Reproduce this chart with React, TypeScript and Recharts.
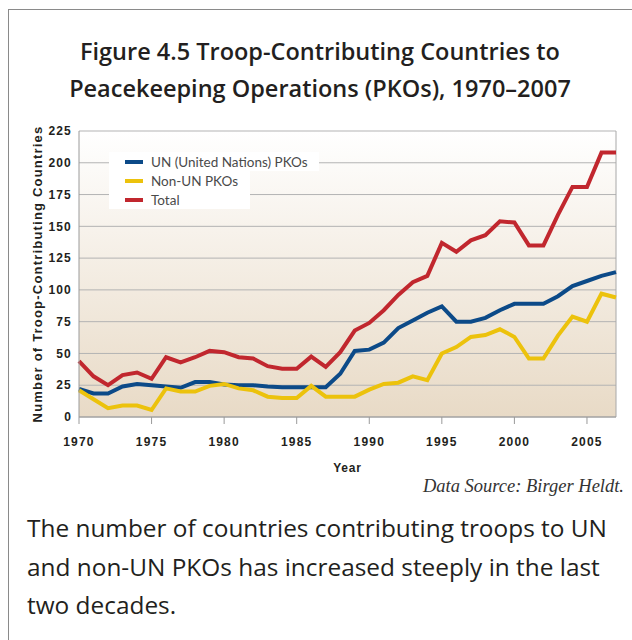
import React from "react";
import {
  CartesianGrid,
  Legend,
  Line,
  LineChart,
  ReferenceLine,
  XAxis,
  YAxis,
} from "recharts";

const years = [
  1970, 1971, 1972, 1973, 1974, 1975, 1976, 1977, 1978, 1979,
  1980, 1981, 1982, 1983, 1984, 1985, 1986, 1987, 1988, 1989,
  1990, 1991, 1992, 1993, 1994, 1995, 1996, 1997, 1998, 1999,
  2000, 2001, 2002, 2003, 2004, 2005, 2006, 2007,
];

const unPko = [
  22, 18.5, 18.5, 24, 26, 25, 24, 23, 27.5, 27.5,
  25.5, 25, 25, 24, 23.5, 23.5, 23.5, 23.5, 34, 52,
  53, 58.5, 70, 76, 82, 87, 75, 75, 78, 84,
  89, 89, 89, 95, 103, 107, 111, 114,
];

const nonUnPko = [
  21, 14, 7, 9, 9, 5.5, 22.5, 20, 20, 24.5,
  26, 22.5, 21, 16, 15, 15, 24.5, 16, 16, 16,
  21.5, 26, 27, 32, 29, 50, 55, 63, 64.5, 69,
  63, 46, 46, 64, 79, 75, 97, 94,
];

const totalPko = [
  44, 32, 25, 33, 35, 30, 47, 43, 47, 52,
  51, 47, 46, 40, 38, 38, 47.5, 39.5, 51, 68,
  74, 84, 96, 106, 111, 137, 130, 139, 143, 154,
  153, 135, 135, 159, 181, 181, 208, 208,
];

const yearTicks = [1970, 1975, 1980, 1985, 1990, 1995, 2000, 2005];
const countTicks = [0, 25, 50, 75, 100, 125, 150, 175, 200, 225];

// legend rows in the order the series are listed
const seriesOrder = ["un", "nonUn", "total"];

const rows = years.map((year, i) => ({
  year,
  un: unPko[i],
  nonUn: nonUnPko[i],
  total: totalPko[i],
}));

const axisFont = {
  fontFamily: "'Liberation Sans', Arial, sans-serif",
  fontWeight: 700,
  fontSize: 12,
  fill: "#231f20",
  letterSpacing: 1.2,
};

function KeyList({ payload }: { payload?: any[] }) {
  const items = [...(payload ?? [])].sort(
    (a, b) => seriesOrder.indexOf(a.dataKey) - seriesOrder.indexOf(b.dataKey)
  );
  return (
    <div style={{ fontFamily: "Lato, sans-serif", fontSize: 13.5, color: "#4a4a4a" }}>
      {items.map((item, i) => (
        <div
          key={item.value}
          style={{
            display: "flex",
            alignItems: "center",
            height: 19,
            background: "#fff",
            boxSizing: "border-box",
            whiteSpace: "nowrap",
            paddingLeft: 16,
            paddingRight: i === 0 ? 11 : 0,
            width: i === 0 ? "max-content" : 141,
          }}
        >
          <span
            style={{ width: 18, height: 4, background: item.color, marginRight: 8, flex: "none" }}
          />
          {item.value}
        </div>
      ))}
    </div>
  );
}

export default function App() {
  return (
    <div
      style={{
        position: "absolute",
        left: 0,
        top: 0,
        width: 632,
        height: 640,
        overflow: "hidden",
        background: "#fff",
      }}
    >
      <div
        style={{
          position: "absolute",
          left: 8,
          top: 9,
          width: 700,
          height: 700,
          borderLeft: "1.5px solid #8a8a8a",
          borderTop: "1.5px solid #8a8a8a",
        }}
      />
      <div
        style={{
          position: "absolute",
          left: 8,
          top: 33,
          width: 624,
          textAlign: "center",
          fontFamily: "'Open Sans', sans-serif",
          fontWeight: 600,
          fontSize: 23.5,
          lineHeight: "37px",
          color: "#231f20",
        }}
      >
        Figure 4.5 Troop-Contributing Countries to
        <br />
        Peacekeeping Operations (PKOs), 1970–2007
      </div>

      <div style={{ position: "absolute", left: 0, top: 0 }}>
        <LineChart
          width={632}
          height={500}
          data={rows}
          margin={{ top: 131, right: 16, left: 0, bottom: 53 }}
        >
          <defs>
            <linearGradient id="plotShade" x1="0" y1="0" x2="0" y2="1">
              <stop offset="0%" stopColor="#ffffff" />
              <stop offset="100%" stopColor="#e8dac6" />
            </linearGradient>
          </defs>
          <CartesianGrid
            vertical={false}
            stroke="#b3b3b3"
            fill="url(#plotShade)"
            fillOpacity={1}
          />
          <XAxis
            dataKey="year"
            type="number"
            domain={[1970, 2007]}
            ticks={yearTicks}
            height={30}
            tick={axisFont}
            tickSize={7}
            tickMargin={13}
            stroke="#9a9a9a"
            label={{
              value: "Year",
              position: "bottom",
              offset: 16,
              style: { ...axisFont, letterSpacing: 0.8 },
            }}
          />
          <YAxis
            domain={[0, 225]}
            ticks={countTicks}
            width={79}
            tick={axisFont}
            tickLine={false}
            tickSize={0}
            tickMargin={7}
            stroke="#9a9a9a"
            label={{
              value: "Number of Troop-Contributing Countries",
              angle: -90,
              position: "center",
              dx: -2,
              style: { ...axisFont, fontSize: 13, letterSpacing: 1.2 },
            }}
          />
          <ReferenceLine x={2007} stroke="#a8a8a8" />
          <Legend
            layout="vertical"
            align="center"
            verticalAlign="middle"
            wrapperStyle={{ left: 109, top: 152 }}
            content={<KeyList />}
          />
          <Line
            type="linear"
            dataKey="un"
            name="UN (United Nations) PKOs"
            stroke="#0c4a88"
            strokeWidth={4}
            dot={false}
            activeDot={false}
            isAnimationActive={false}
          />
          <Line
            type="linear"
            dataKey="nonUn"
            name="Non-UN PKOs"
            stroke="#ecc20c"
            strokeWidth={4}
            dot={false}
            activeDot={false}
            isAnimationActive={false}
          />
          <Line
            type="linear"
            dataKey="total"
            name="Total"
            stroke="#c1272e"
            strokeWidth={4}
            dot={false}
            activeDot={false}
            isAnimationActive={false}
          />
        </LineChart>
      </div>

      <div
        style={{
          position: "absolute",
          right: 8,
          top: 476,
          fontFamily: "'Liberation Serif', serif",
          fontStyle: "italic",
          fontSize: 18.5,
          color: "#333",
        }}
      >
        Data Source: Birger Heldt.
      </div>
      <div
        style={{
          position: "absolute",
          left: 27,
          top: 509,
          width: 605,
          fontFamily: "'Open Sans', sans-serif",
          fontSize: 24.4,
          lineHeight: "38.5px",
          color: "#231f20",
          whiteSpace: "nowrap",
        }}
      >
        The number of countries contributing troops to UN
        <br />
        and non-UN PKOs has increased steeply in the last
        <br />
        two decades.
      </div>
    </div>
  );
}
